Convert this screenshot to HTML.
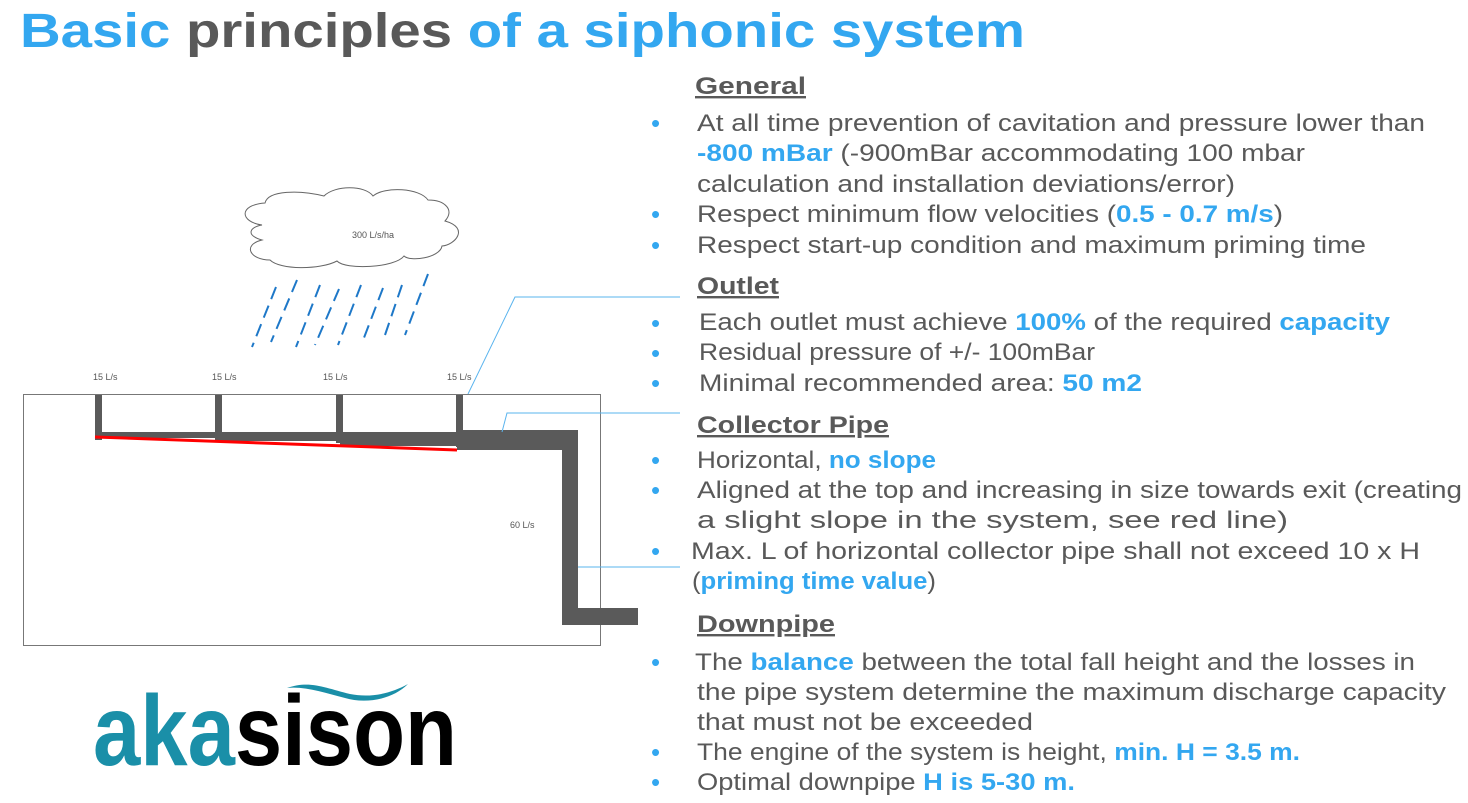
<!DOCTYPE html>
<html><head><meta charset="utf-8"><style>
html,body{margin:0;padding:0;background:#fff;}
svg{display:block}
</style></head><body>
<svg width="1468" height="803" viewBox="0 0 1468 803" xmlns="http://www.w3.org/2000/svg" font-family="Liberation Sans, sans-serif">
<text x="20" y="47" font-size="48" font-weight="bold" textLength="1005" lengthAdjust="spacingAndGlyphs"><tspan fill="#33a7f0">Basic </tspan><tspan fill="#595959">principles </tspan><tspan fill="#33a7f0">of a siphonic system</tspan></text>

<rect x="23.5" y="394.5" width="577" height="251" fill="none" stroke="#777" stroke-width="1"/>
<g fill="#5a5a5a">
<rect x="95" y="395" width="7" height="45"/>
<rect x="215" y="395" width="7" height="45"/>
<rect x="336" y="395" width="7" height="48"/>
<rect x="456" y="395" width="7" height="52"/>
<rect x="95" y="432" width="125" height="6"/>
<rect x="218" y="432" width="122" height="9"/>
<rect x="340" y="432" width="122" height="14"/>
<rect x="457" y="430" width="121" height="20"/>
<rect x="562" y="430" width="16" height="195"/>
<rect x="562" y="608" width="76" height="17"/>
</g>
<line x1="95" y1="437" x2="457" y2="450" stroke="#ff0000" stroke-width="3"/>
<g stroke="#5ab4ee" stroke-width="1" fill="none">
<polyline points="468,394 515,297 680,297"/>
<polyline points="502,432 507,413 680,413"/>
<polyline points="578,567 680,567"/>
</g>
<path d="M262,225 C240,222 238,205 265,203 C268,190 300,190 324,196 C335,185 365,185 373,196 C385,186 420,188 428,200 C445,200 455,210 445,221 C470,228 455,245 442,246 C440,258 410,262 404,256 C395,268 345,270 337,261 C320,270 280,270 270,260 C250,260 242,245 262,240 C245,235 250,227 262,225 Z" fill="#fff" stroke="#666" stroke-width="1"/>
<text x="352" y="238" font-size="9" fill="#555">300 L/s/ha</text>
<g stroke="#1e78c8" stroke-width="2" stroke-dasharray="13,7" fill="none">
<line x1="276" y1="287" x2="252" y2="347"/>
<line x1="297" y1="280" x2="271" y2="342"/>
<line x1="320" y1="285" x2="296" y2="347"/>
<line x1="339" y1="289" x2="315" y2="345"/>
<line x1="361" y1="285" x2="338" y2="345"/>
<line x1="383" y1="288" x2="362" y2="343"/>
<line x1="402" y1="285" x2="385" y2="335"/>
<line x1="428" y1="274" x2="405" y2="335"/>
</g>
<g font-size="9" fill="#555">
<text x="93" y="380">15 L/s</text>
<text x="212" y="380">15 L/s</text>
<text x="323" y="380">15 L/s</text>
<text x="447" y="380">15 L/s</text>
<text x="510" y="528">60 L/s</text>
</g>

<path d="M287,688 C310,680 325,688 350,694 C370,698 390,694 408,684 C392,700 365,704 345,698 C325,693 305,686 287,688 Z" fill="#1a8fa8"/>
<text x="93" y="765" font-size="100" font-weight="bold" textLength="364" lengthAdjust="spacingAndGlyphs"><tspan fill="#1a8fa8">aka</tspan><tspan fill="#000">sison</tspan></text>

<g font-size="24" fill="#595959">
<g font-weight="bold" text-decoration="underline">
<text x="695" y="94" textLength="111" lengthAdjust="spacingAndGlyphs">General</text>
<text x="697" y="294" textLength="82" lengthAdjust="spacingAndGlyphs">Outlet</text>
<text x="697" y="433" textLength="192" lengthAdjust="spacingAndGlyphs">Collector Pipe</text>
<text x="697" y="632" textLength="138" lengthAdjust="spacingAndGlyphs">Downpipe</text>
</g>
<g fill="#33a7f0" font-size="26">
<text x="651" y="132">•</text><text x="651" y="223">•</text><text x="651" y="254">•</text>
<text x="651" y="332">•</text><text x="651" y="362">•</text><text x="651" y="392">•</text>
<text x="651" y="469">•</text><text x="651" y="499">•</text><text x="651" y="560">•</text>
<text x="651" y="671">•</text><text x="651" y="761">•</text><text x="651" y="791">•</text>
</g>
<text x="697" y="131" textLength="728" lengthAdjust="spacingAndGlyphs">At all time prevention of cavitation and pressure lower than</text>
<text x="697" y="161" textLength="608" lengthAdjust="spacingAndGlyphs"><tspan fill="#33a7f0" font-weight="bold">-800 mBar</tspan> (-900mBar accommodating 100 mbar</text>
<text x="697" y="192" textLength="538" lengthAdjust="spacingAndGlyphs">calculation and installation deviations/error)</text>
<text x="697" y="222" textLength="586" lengthAdjust="spacingAndGlyphs">Respect minimum flow velocities (<tspan fill="#33a7f0" font-weight="bold">0.5 - 0.7 m/s</tspan>)</text>
<text x="697" y="253" textLength="669" lengthAdjust="spacingAndGlyphs">Respect start-up condition and maximum priming time</text>

<text x="699" y="330" textLength="691" lengthAdjust="spacingAndGlyphs">Each outlet must achieve <tspan fill="#33a7f0" font-weight="bold">100%</tspan> of the required <tspan fill="#33a7f0" font-weight="bold">capacity</tspan></text>
<text x="699" y="360" textLength="396" lengthAdjust="spacingAndGlyphs">Residual pressure of +/- 100mBar</text>
<text x="699" y="391" textLength="443" lengthAdjust="spacingAndGlyphs">Minimal recommended area: <tspan fill="#33a7f0" font-weight="bold">50 m2</tspan></text>

<text x="697" y="468" textLength="239" lengthAdjust="spacingAndGlyphs">Horizontal, <tspan fill="#33a7f0" font-weight="bold">no slope</tspan></text>
<text x="697" y="498" textLength="765" lengthAdjust="spacingAndGlyphs">Aligned at the top and increasing in size towards exit (creating</text>
<text x="697" y="528" textLength="591" lengthAdjust="spacingAndGlyphs">a slight slope in the system, see red line)</text>
<text x="691" y="559" textLength="729" lengthAdjust="spacingAndGlyphs">Max. L of horizontal collector pipe shall not exceed 10 x H</text>
<text x="692" y="589" textLength="244" lengthAdjust="spacingAndGlyphs">(<tspan fill="#33a7f0" font-weight="bold">priming time value</tspan>)</text>

<text x="695" y="670" textLength="720" lengthAdjust="spacingAndGlyphs">The <tspan fill="#33a7f0" font-weight="bold">balance</tspan> between the total fall height and the losses in</text>
<text x="697" y="700" textLength="749" lengthAdjust="spacingAndGlyphs">the pipe system determine the maximum discharge capacity</text>
<text x="697" y="730" textLength="336" lengthAdjust="spacingAndGlyphs">that must not be exceeded</text>
<text x="697" y="760" textLength="603" lengthAdjust="spacingAndGlyphs">The engine of the system is height, <tspan fill="#33a7f0" font-weight="bold">min. H = 3.5 m.</tspan></text>
<text x="697" y="790" textLength="378" lengthAdjust="spacingAndGlyphs">Optimal downpipe <tspan fill="#33a7f0" font-weight="bold">H is 5-30 m.</tspan></text>
</g>
</svg>
</body></html>
